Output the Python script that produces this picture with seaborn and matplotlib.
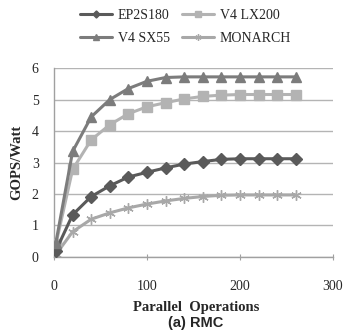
import matplotlib
matplotlib.use("Agg")
import matplotlib.pyplot as plt
import seaborn as sns
import pandas as pd

ops = [2, 20, 40, 60, 80, 100, 120, 140, 160, 180, 200, 220, 240, 260]
ep2s180 = [0.2, 1.34, 1.92, 2.26, 2.54, 2.69, 2.83, 2.95, 3.03, 3.1, 3.12, 3.12, 3.12, 3.12]
v4lx200 = [0.4, 2.78, 3.72, 4.2, 4.55, 4.77, 4.9, 5.02, 5.1, 5.14, 5.16, 5.16, 5.16, 5.16]
v4sx55 = [0.45, 3.35, 4.45, 5.0, 5.35, 5.58, 5.7, 5.72, 5.72, 5.72, 5.72, 5.72, 5.72, 5.72]
monarch = [0.08, 0.8, 1.2, 1.4, 1.56, 1.68, 1.78, 1.86, 1.92, 1.96, 1.97, 1.97, 1.97, 1.97]
series_names = ["EP2S180", "V4 LX200", "V4 SX55", "MONARCH"]

sns.set_style("white")
plt.rcParams["font.family"] = ["Liberation Serif", "DejaVu Serif"]

fig = plt.figure(figsize=(3.44, 3.32), dpi=100)
ax = fig.add_axes([0.157, 0.226, 0.811, 0.569])

styles = {
    "EP2S180": dict(color="#5a5a5a", marker="D", ms=6),
    "V4 LX200": dict(color="#b3b3b3", marker="s", ms=7),
    "V4 SX55": dict(color="#7c7c7c", marker="^", ms=7.5),
    "MONARCH": dict(color="#a8a8a8", marker=(6, 2, 0), ms=7.5),
}
data = {"EP2S180": ep2s180, "V4 LX200": v4lx200, "V4 SX55": v4sx55, "MONARCH": monarch}
# column-wise fill gives rows: EP2S180 | V4 LX200 ; V4 SX55 | MONARCH
legend_order = ["EP2S180", "V4 SX55", "V4 LX200", "MONARCH"]
zorders = {"EP2S180": 4, "V4 LX200": 3, "V4 SX55": 5, "MONARCH": 2}
for name in ["MONARCH", "V4 LX200", "EP2S180", "V4 SX55"]:
    st = styles[name]
    df = pd.DataFrame({"x": ops, "y": data[name]})
    sns.lineplot(data=df, x="x", y="y", ax=ax, color=st["color"], marker=st["marker"],
                 markersize=st["ms"], markeredgecolor=st["color"], markeredgewidth=1.0,
                 linewidth=2.2, label=name, zorder=zorders[name])

ax.set_xlim(0, 300)
ax.set_ylim(0, 6)
ax.set_xticks([0, 100, 200, 300])
ax.set_yticks(range(0, 7))
ax.yaxis.grid(True, color="#b4b4b4", linewidth=1.0)
ax.xaxis.grid(False)
ax.set_axisbelow(True)
for s in ["top", "right"]:
    ax.spines[s].set_visible(False)
for s in ["left", "bottom"]:
    ax.spines[s].set_color("#a0a0a0")
    ax.spines[s].set_linewidth(1.0)
ax.tick_params(axis="x", which="both", direction="inout", length=5, color="#a0a0a0",
               labelsize=10, pad=14, bottom=True)
ax.tick_params(axis="y", length=0, labelsize=10, pad=11, left=False)

ax.set_xlabel("")
ax.set_ylabel("GOPS/Watt", fontsize=10.5, fontweight="bold", labelpad=6)

handles, labels = ax.get_legend_handles_labels()
hmap = dict(zip(labels, handles))
if ax.get_legend():
    ax.get_legend().remove()
leg = fig.legend([hmap[n] for n in legend_order], legend_order, loc="upper center", ncol=2,
                 bbox_to_anchor=(0.54, 1.012), frameon=False, fontsize=10,
                 handlelength=2.3, columnspacing=0.9, handletextpad=0.4,
                 labelspacing=0.75, markerscale=0.6)

fig.text(0.57, 0.075, "Parallel  Operations", ha="center", va="center",
         fontsize=10.5, fontweight="bold")
fig.text(0.57, 0.028, "(a) RMC", ha="center", va="center", fontsize=10.5,
         fontweight="bold", family=["Liberation Sans", "DejaVu Sans"])

fig.savefig("out.png", dpi=100)
